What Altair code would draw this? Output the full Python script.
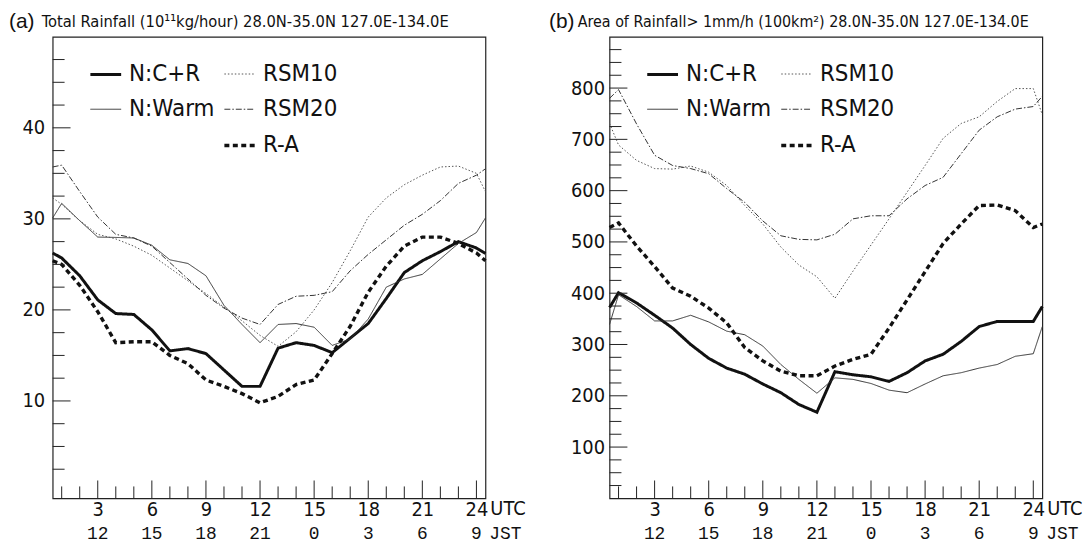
import altair as alt
import pandas as pd

# ---------------- data ----------------
HOURS = [0.5, 1, 2, 3, 4, 5, 6, 7, 8, 9, 10, 11, 12, 13, 14, 15, 16, 17, 18, 19, 20, 21, 22, 23, 24, 24.5]

# (a) Total rainfall (10^11 kg/hour)
A_CR = [26.25, 25.7, 23.75, 21.1, 19.6, 19.5, 17.8, 15.5, 15.75, 15.2, 13.4, 11.6, 11.6,
        15.8, 16.4, 16.1, 15.3, 16.9, 18.5, 21.25, 24.1, 25.4, 26.4, 27.5, 26.8, 26.2]
A_WARM = [30.1, 31.7, 29.8, 28.0, 27.96, 27.9, 27.1, 25.5, 25.1, 23.75, 20.5, 18.4, 16.4,
          18.4, 18.5, 18.1, 16.1, 16.8, 19.0, 22.5, 23.4, 23.9, 25.6, 27.3, 28.5, 30.1]
A_RSM10 = [32.3, 31.6, 29.8, 28.3, 27.8, 27.0, 26.0, 24.6, 23.2, 21.8, 20.3, 18.8, 17.2,
           16.0, 17.6, 20.0, 23.0, 26.5, 30.2, 32.3, 33.75, 34.8, 35.7, 35.8, 35.0, 33.0]
A_RSM20 = [35.7, 35.9, 33.0, 30.2, 28.3, 27.9, 27.0, 25.2, 23.4, 21.6, 20.2, 19.1, 18.4,
           20.6, 21.5, 21.6, 22.0, 24.3, 26.1, 27.7, 29.3, 30.5, 32.0, 33.9, 34.8, 35.5]
A_RA = [25.4, 25.0, 22.7, 19.8, 16.4, 16.5, 16.5, 15.0, 14.1, 12.3, 11.6, 10.8, 9.8,
        10.5, 11.8, 12.3, 15.2, 18.2, 21.95, 24.8, 27.0, 28.0, 28.0, 27.3, 26.25, 25.4]

# (b) Area of rainfall > 1 mm/h (100 km^2)
B_CR = [372, 401, 381, 357, 332, 300, 273, 254, 242, 223, 206, 183, 168,
        247, 241, 237, 228, 245, 268, 281, 306, 335, 345, 345, 345, 374]
B_WARM = [339, 397, 374, 346, 346, 357, 344, 326, 319, 297, 261, 232, 205,
          235, 232, 224, 211, 206, 223, 239, 245, 254, 261, 277, 282, 335]
B_RSM10 = [731, 689, 659, 643, 642, 648, 636, 610, 571, 535, 490, 455, 432,
           390, 443, 494, 545, 597, 649, 702, 731, 744, 774, 799, 799, 748]
B_RSM20 = [780, 797, 730, 669, 649, 643, 633, 604, 577, 541, 512, 505, 504,
           515, 545, 551, 551, 584, 610, 626, 672, 718, 744, 759, 764, 784]
B_RA = [528, 537, 492, 452, 410, 394, 371, 342, 294, 268, 248, 239, 239,
        258, 271, 281, 332, 387, 442, 497, 535, 571, 572, 561, 528, 535]

# legend order (filled column by column): N:C+R, N:Warm, (blank) | RSM10, RSM20, R-A
SERIES = ["N:C+R", "N:Warm", " ", "RSM10", "RSM20", "R-A"]
COLORS = ["#111111", "#333333", "transparent", "#555555", "#333333", "#111111"]
WIDTHS = [3.0, 1.0, 0.0, 1.0, 1.0, 3.4]
DASHES = [[1, 0], [1, 0], [1, 0], [1.5, 2], [6, 2, 1.5, 2], [5, 3.5]]

UTC_TICKS = [3, 6, 9, 12, 15, 18, 21, 24]
JST_LABELS = ["12", "15", "18", "21", "0", "3", "6", "9"]
HOUR_MINOR = [1, 2, 4, 5, 7, 8, 10, 11, 13, 14, 16, 17, 19, 20, 22, 23]

A_Y_LABELS = [10, 20, 30, 40]
A_Y_MINOR = [2.5, 5, 7.5, 12.5, 15, 17.5, 22.5, 25, 27.5, 32.5, 35, 37.5, 42.5, 45, 47.5]
B_Y_LABELS = [100, 200, 300, 400, 500, 600, 700, 800]
B_Y_MINOR = [25, 50, 75, 125, 150, 175, 225, 250, 275, 325, 350, 375, 425, 450, 475,
             525, 550, 575, 625, 650, 675, 725, 750, 775, 825, 850, 875]

NARROW = "DejaVu Sans Condensed, Liberation Sans Narrow, Roboto, sans-serif"
MONO = "Liberation Mono, DejaVu Sans Mono, monospace"
W, H = 436, 465


def panel(series_vals, ydom, ylabels, yminor, tag, title, title_size, ylabpad, tagx, titlex):
    rows = []
    for name, vals in series_vals:
        for h, v in zip(HOURS, vals):
            rows.append({"hour": h, "value": v, "series": name})
    df = pd.DataFrame(rows)

    xenc = alt.X("hour:Q", scale=alt.Scale(domain=[0.5, 24.5], nice=False, zero=False),
                 axis=alt.Axis(values=UTC_TICKS, title=None, ticks=False, domain=False, grid=False,
                               labelFont=NARROW, labelFontSize=20, labelColor="#111",
                               labelPadding=11, labelBaseline="middle",
                               labelFlush=False, labelOverlap=False))
    yenc = alt.Y("value:Q", scale=alt.Scale(domain=ydom, nice=False, zero=False),
                 axis=alt.Axis(values=ylabels, title=None, ticks=False, domain=False, grid=False,
                               labelFont=NARROW, labelFontSize=20, labelColor="#111",
                               labelPadding=ylabpad, labelFlush=False, labelOverlap=False))
    leg = alt.Legend(orient="none", legendX=36, legendY=21, title=None, columns=2,
                     direction="vertical", symbolType="stroke", symbolSize=961,
                     labelFont=NARROW, labelFontSize=24, labelColor="#111",
                     rowPadding=7, columnPadding=3, labelOffset=6, padding=0)

    lines = alt.Chart(df).mark_line(strokeCap="butt").encode(
        x=xenc, y=yenc,
        color=alt.Color("series:N", scale=alt.Scale(domain=SERIES, range=COLORS), legend=leg),
        strokeDash=alt.StrokeDash("series:N", scale=alt.Scale(domain=SERIES, range=DASHES), legend=leg),
        strokeWidth=alt.StrokeWidth("series:N", scale=alt.Scale(type="ordinal", domain=SERIES, range=WIDTHS),
                                    legend=leg),
    )

    tick_style = dict(color="#222", strokeWidth=1)
    xt_min = alt.Chart(pd.DataFrame({"hour": HOUR_MINOR})).mark_rule(**tick_style).encode(
        x=xenc, y=alt.value(H), y2=alt.value(H - 12))
    xt_maj = alt.Chart(pd.DataFrame({"hour": UTC_TICKS})).mark_rule(**tick_style).encode(
        x=xenc, y=alt.value(H), y2=alt.value(H - 18))
    yt_min = alt.Chart(pd.DataFrame({"value": yminor})).mark_rule(**tick_style).encode(
        y=yenc, x=alt.value(0), x2=alt.value(12))
    yt_maj = alt.Chart(pd.DataFrame({"value": ylabels})).mark_rule(**tick_style).encode(
        y=yenc, x=alt.value(0), x2=alt.value(18))

    jst = alt.Chart(pd.DataFrame({"hour": UTC_TICKS, "jst": JST_LABELS})).mark_text(
        font=MONO, fontSize=18, baseline="middle", color="#111").encode(
        x=xenc, y=alt.value(H + 36), text="jst:N")
    utc_word = alt.Chart(pd.DataFrame({"hour": [24], "t": ["UTC"]})).mark_text(
        font=NARROW, fontSize=20, align="left", baseline="middle", dx=14, color="#111").encode(
        x=xenc, y=alt.value(H + 11), text="t:N")
    jst_word = alt.Chart(pd.DataFrame({"hour": [24], "t": ["JST"]})).mark_text(
        font=MONO, fontSize=18, align="left", baseline="middle", dx=13, color="#111").encode(
        x=xenc, y=alt.value(H + 36), text="t:N")
    tag_t = alt.Chart(pd.DataFrame({"t": [tag]})).mark_text(
        font="Liberation Sans, Arial, sans-serif", fontSize=21, align="left",
        baseline="alphabetic", color="#111").encode(
        x=alt.value(tagx), y=alt.value(-9), text="t:N")
    title_t = alt.Chart(pd.DataFrame({"t": [title]})).mark_text(
        font=NARROW, fontSize=title_size, align="left", baseline="alphabetic", color="#111").encode(
        x=alt.value(titlex), y=alt.value(-10), text="t:N")

    return alt.layer(lines, xt_min, xt_maj, yt_min, yt_maj, jst, utc_word, jst_word,
                     tag_t, title_t).properties(width=W, height=H)


pa = panel([("N:C+R", A_CR), ("N:Warm", A_WARM), ("RSM10", A_RSM10), ("RSM20", A_RSM20), ("R-A", A_RA)],
           [-0.7, 50], A_Y_LABELS, A_Y_MINOR, "(a)",
           "Total Rainfall (10¹¹kg/hour)  28.0N-35.0N 127.0E-134.0E", 16.5, 8, -44, -11)
pb = panel([("N:C+R", B_CR), ("N:Warm", B_WARM), ("RSM10", B_RSM10), ("RSM20", B_RSM20), ("R-A", B_RA)],
           [0, 900], B_Y_LABELS, B_Y_MINOR, "(b)",
           "Area of Rainfall>  1mm/h (100km²)  28.0N-35.0N 127.0E-134.0E", 16, 5, -61, -32)

chart = alt.hconcat(pa, pb, spacing=125, bounds="flush").resolve_scale(
    color="independent", strokeDash="independent", strokeWidth="independent",
    x="independent", y="independent"
).resolve_legend(
    color="independent", strokeDash="independent", strokeWidth="independent"
).properties(padding=0, background="white").configure_view(stroke="#222", strokeWidth=1.2)

chart.save("out.html", embed_options={"renderer": "svg", "actions": False})
